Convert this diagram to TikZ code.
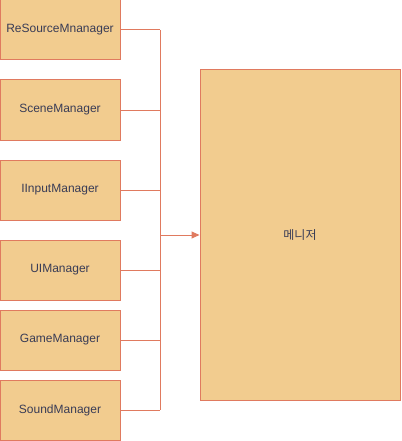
\documentclass[tikz,border=0pt]{standalone}
\usepackage{fontspec}
\setmainfont{Liberation Sans}
\newfontfamily\krfont{Noto Sans CJK KR}
\usetikzlibrary{arrows.meta}
\definecolor{boxfill}{HTML}{F2CC8F}
\definecolor{boxline}{HTML}{E07A5F}
\definecolor{boxtext}{HTML}{393C56}

\begin{document}
\begin{tikzpicture}[x=1pt,y=-1pt,
    mgrbox/.style={draw=boxline,fill=boxfill,line width=1pt,minimum width=120pt,minimum height=60pt,
        text=boxtext,font=\fontsize{12}{14}\selectfont,inner sep=0pt},
    wire/.style={draw=boxline,line width=1pt}]
    \useasboundingbox (0,0) rectangle (401,441);

    \node[mgrbox] (res) at (60,30) {ReSourceMnanager};
    \node[mgrbox] (scene) at (60,110) {SceneManager};
    \node[mgrbox] (input) at (60,190) {IInputManager};
    \node[mgrbox] (ui) at (60,270) {UIManager};
    \node[mgrbox] (game) at (60,340) {GameManager};
    \node[mgrbox] (sound) at (60,410) {SoundManager};

    \node[mgrbox,minimum width=200pt,minimum height=330pt,font=\krfont\fontsize{12}{14}\selectfont] (mgr) at (300,235) {메니저};

    \coordinate (top) at (160,30);
    \coordinate (bot) at (160,410);
    \coordinate (mid) at (160,235);

    \draw[wire] (top) -- (bot);
    \foreach \n in {res,scene,input,ui,game,sound}
        \draw[wire] (\n.east) -- (\n.east -| top);
    \draw[wire,-{Triangle[length=8pt,width=7pt]}] (mid) -- (mgr.west);
\end{tikzpicture}
\end{document}
